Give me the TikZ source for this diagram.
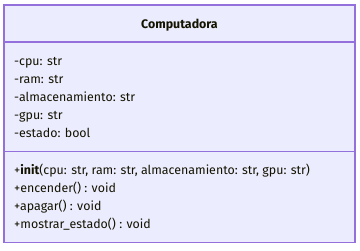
\documentclass[tikz,border=0pt]{standalone}
\usepackage{fontspec}
\setmainfont{Fira Sans}
\begin{document}
\begin{tikzpicture}[x=1pt,y=-1pt,
  box/.style={draw=classline, fill=classfill, line width=1.2pt},
  divider/.style={draw=classline, line width=1.2pt},
  member/.style={anchor=base west, inner sep=0pt, font=\fontsize{12.4}{14}\selectfont, text=classtext},
  title/.style={anchor=base, inner sep=0pt, font=\fontsize{12.4}{14}\selectfont\bfseries, text=classtext}]
\definecolor{classfill}{HTML}{ECECFF}
\definecolor{classline}{HTML}{9370DB}
\definecolor{classtext}{HTML}{131300}
\useasboundingbox (0,0) rectangle (360,250);
% class box with its three compartments
\draw[box] (4,5) rectangle (355,242.5);
\draw[divider] (4,42) -- (355,42);
\draw[divider] (4,151.5) -- (355,151.5);
\node[title] (name) at (179.5,28.5) {Computadora};
% attributes
\node[member] (a1) at (14,65.5) {-cpu: str};
\node[member] (a2) at (14,83.5) {-ram: str};
\node[member] (a3) at (14,101.5) {-almacenamiento: str};
\node[member] (a4) at (14,119.5) {-gpu: str};
\node[member] (a5) at (14,137.5) {-estado: bool};
% operations
\node[member] (m1) at (14,174.5) {+\textbf{init}(cpu: str, ram: str, almacenamiento: str, gpu: str)};
\node[member] (m2) at (14,192.5) {+encender() : void};
\node[member] (m3) at (14,210.5) {+apagar() : void};
\node[member] (m4) at (14,228.5) {+mostrar\_estado() : void};
\end{tikzpicture}
\end{document}
